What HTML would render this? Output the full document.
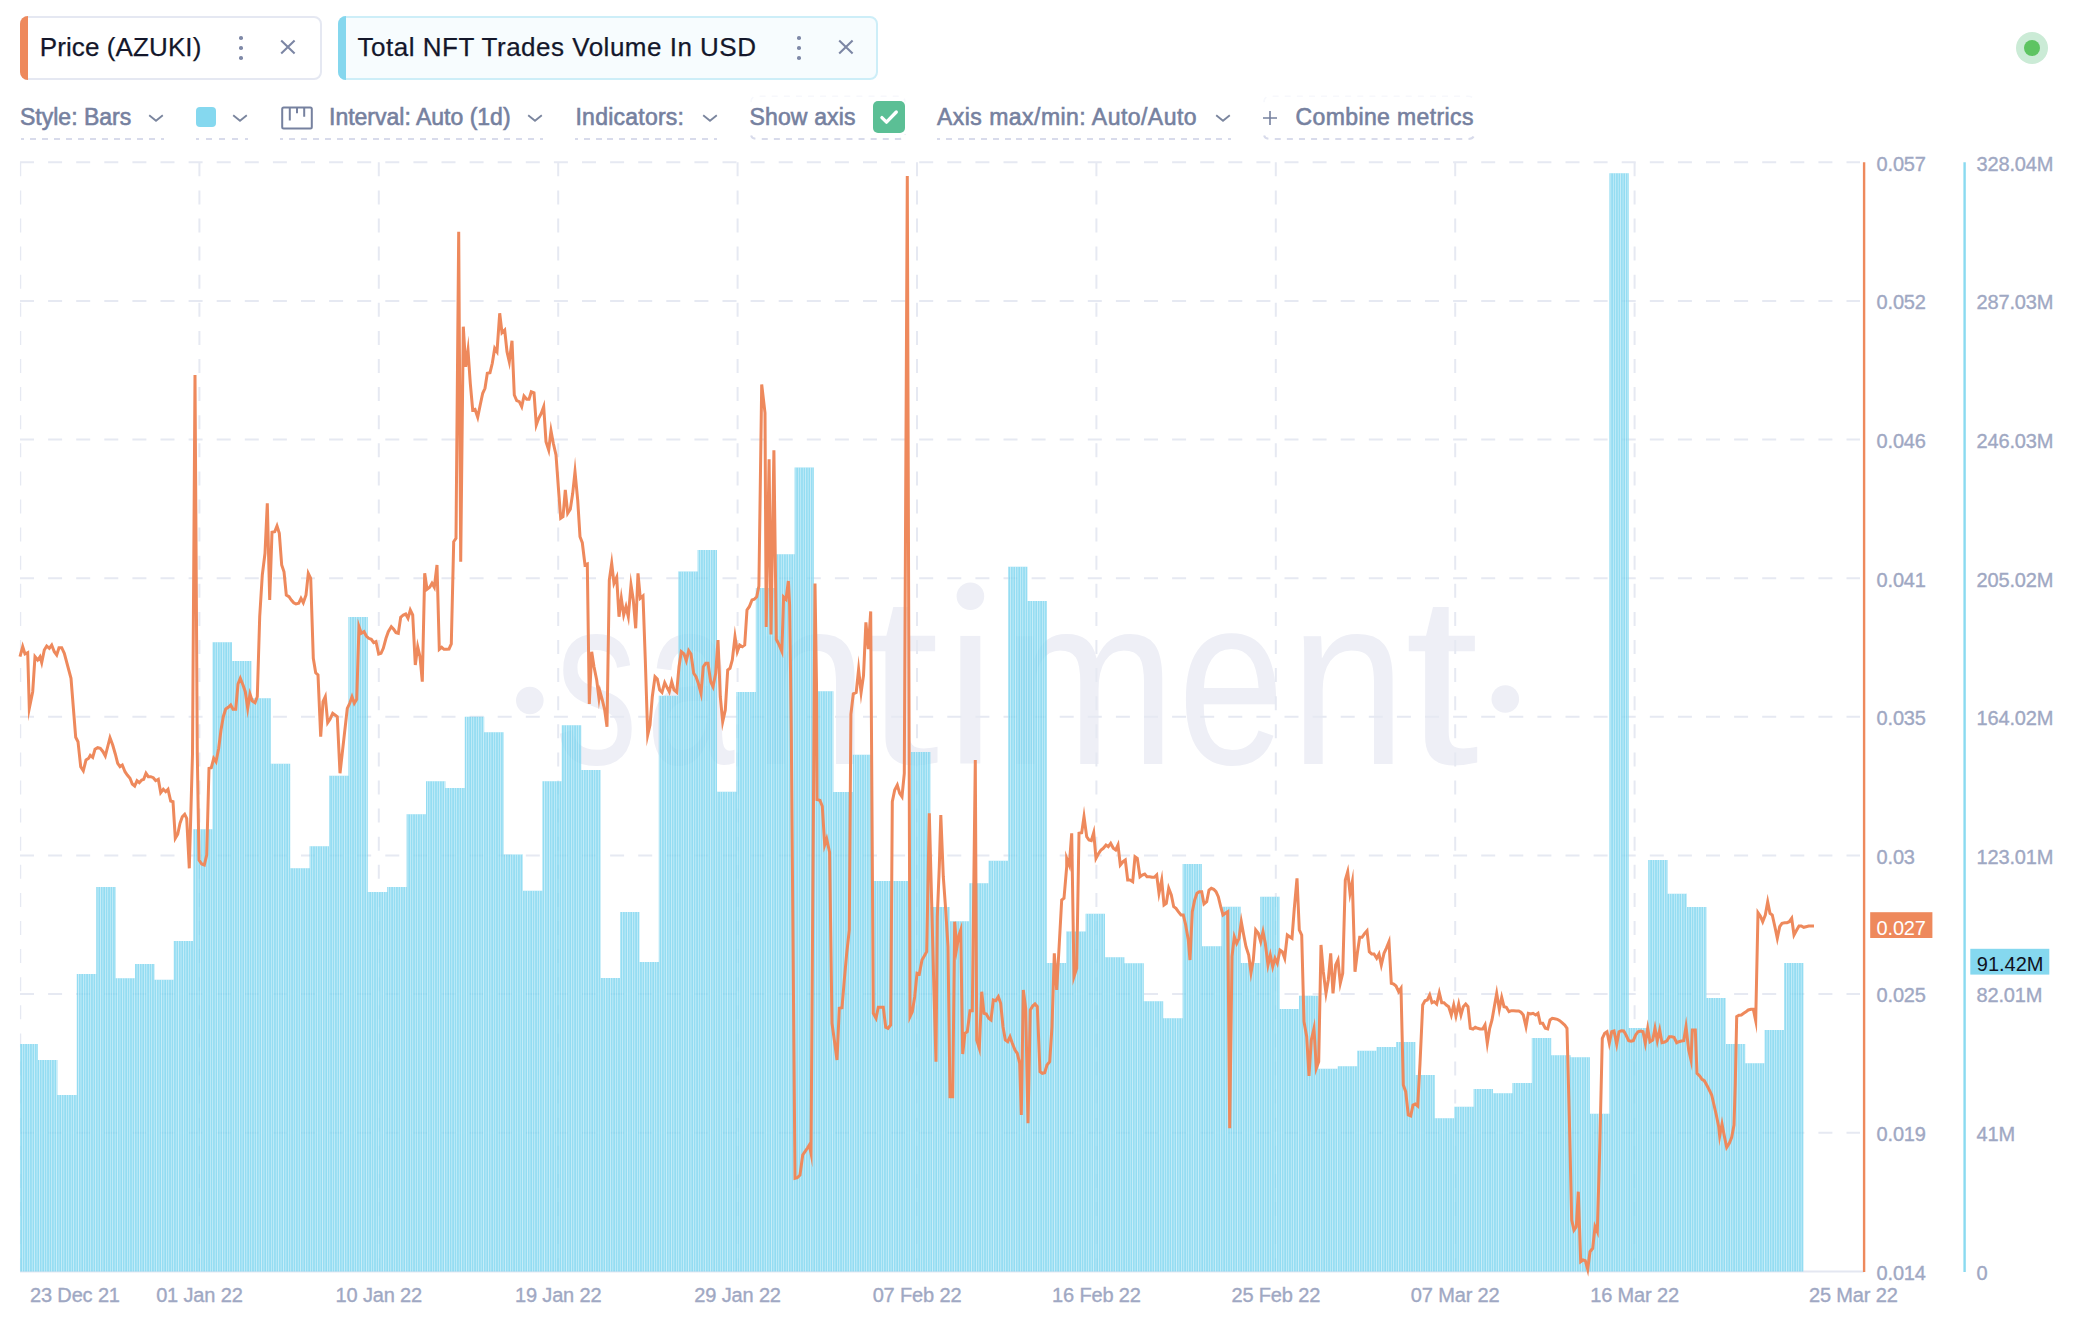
<!DOCTYPE html>
<html><head><meta charset="utf-8"><title>chart</title>
<style>
html,body{margin:0;padding:0;background:#fff;}
body{width:2094px;height:1322px;position:relative;overflow:hidden;font-family:"Liberation Sans",sans-serif;}
#chart{position:absolute;left:0;top:0;}
.tab{position:absolute;top:16px;height:64px;box-sizing:border-box;border:2px solid #E5E8F2;border-radius:8px;}
.tab .acc{position:absolute;left:-2px;top:-2px;width:8px;height:64px;border-radius:8px 0 0 8px;}
.tab .t{-webkit-text-stroke:0.25px #14172b;position:absolute;left:17.8px;top:-2.5px;letter-spacing:0.1px;line-height:62px;font-size:26px;color:#14172b;white-space:nowrap;}
.dots{position:absolute;top:18.4px;width:4px;}
.dots i{display:block;width:3.6px;height:3.6px;border-radius:50%;background:#7f89a8;margin-bottom:6.3px;}
.x{position:absolute;}
.tb{position:absolute;top:100px;height:40px;box-sizing:border-box;white-space:nowrap;font-size:23px;line-height:32px;color:#76819f;-webkit-text-stroke:0.6px #76819f;}
.tb .ul{position:absolute;top:37.9px;height:2px;}
.tb .tx{position:absolute;top:0.5px;left:0;}
.chev{position:absolute;}
</style></head><body>
<svg id="chart" width="2094" height="1322" viewBox="0 0 2094 1322">
<defs><pattern id="st" width="2.44" height="8" patternUnits="userSpaceOnUse"><rect x="0" y="0" width="0.9" height="8" fill="#ffffff" opacity="0.5"/></pattern></defs>
<g fill="#EEEFF6" font-family="Liberation Sans, sans-serif" font-size="242"><circle cx="529.8" cy="700.5" r="13.8"/><circle cx="1505.3" cy="699" r="13.8"/><circle cx="970.4" cy="596.2" r="13.8"/><rect x="960.3" y="635.9" width="20" height="127.6"/><text transform="translate(555.17 763.5) scale(0.6806 1)">s</text><text transform="translate(646.33 763.5) scale(0.6553 1)">a</text><text transform="translate(751.83 763.5) scale(0.8649 1)">n</text><text transform="translate(865.02 763.5) scale(1.1073 1)">t</text><text transform="translate(1002.05 763.5) scale(0.8635 1)">m</text><text transform="translate(1177.86 763.5) scale(0.7942 1)">e</text><text transform="translate(1289.63 763.5) scale(0.8649 1)">n</text><text transform="translate(1404.72 763.5) scale(1.1073 1)">t</text></g>
<clipPath id="bc"><path d="M20.0 1271.5 L20.0 1044.0 L38.0 1044.0 L38.0 1060.0 L57.4 1060.0 L57.4 1095.0 L76.8 1095.0 L76.8 974.0 L96.2 974.0 L96.2 887.0 L115.6 887.0 L115.6 978.3 L135.0 978.3 L135.0 964.0 L154.4 964.0 L154.4 979.7 L173.8 979.7 L173.8 941.0 L193.2 941.0 L193.2 829.3 L212.6 829.3 L212.6 642.3 L232.0 642.3 L232.0 661.0 L251.4 661.0 L251.4 698.3 L270.8 698.3 L270.8 763.7 L290.2 763.7 L290.2 868.3 L309.6 868.3 L309.6 846.3 L329.0 846.3 L329.0 775.7 L348.4 775.7 L348.4 617.0 L367.8 617.0 L367.8 892.0 L387.2 892.0 L387.2 887.0 L406.6 887.0 L406.6 814.3 L426.0 814.3 L426.0 781.3 L445.4 781.3 L445.4 788.0 L464.8 788.0 L464.8 716.7 L484.2 716.7 L484.2 732.3 L503.6 732.3 L503.6 854.5 L523.0 854.5 L523.0 890.7 L542.4 890.7 L542.4 781.3 L561.8 781.3 L561.8 725.3 L581.2 725.3 L581.2 770.0 L600.6 770.0 L600.6 978.0 L620.0 978.0 L620.0 912.0 L639.4 912.0 L639.4 962.0 L658.8 962.0 L658.8 695.7 L678.2 695.7 L678.2 571.5 L697.6 571.5 L697.6 550.0 L717.0 550.0 L717.0 791.7 L736.4 791.7 L736.4 692.0 L755.8 692.0 L755.8 588.0 L775.2 588.0 L775.2 554.3 L794.6 554.3 L794.6 467.6 L814.0 467.6 L814.0 691.3 L833.4 691.3 L833.4 792.0 L852.8 792.0 L852.8 754.7 L872.2 754.7 L872.2 881.0 L891.6 881.0 L891.6 881.0 L911.0 881.0 L911.0 752.0 L930.4 752.0 L930.4 907.0 L949.8 907.0 L949.8 921.2 L969.2 921.2 L969.2 883.3 L988.6 883.3 L988.6 860.7 L1008.0 860.7 L1008.0 566.7 L1027.4 566.7 L1027.4 601.0 L1046.8 601.0 L1046.8 963.0 L1066.2 963.0 L1066.2 931.5 L1085.6 931.5 L1085.6 913.8 L1105.0 913.8 L1105.0 957.3 L1124.4 957.3 L1124.4 963.3 L1143.8 963.3 L1143.8 1001.3 L1163.2 1001.3 L1163.2 1018.3 L1182.6 1018.3 L1182.6 864.0 L1202.0 864.0 L1202.0 946.3 L1221.4 946.3 L1221.4 906.7 L1240.8 906.7 L1240.8 963.0 L1260.2 963.0 L1260.2 896.7 L1279.6 896.7 L1279.6 1009.0 L1299.0 1009.0 L1299.0 995.7 L1318.4 995.7 L1318.4 1068.7 L1337.8 1068.7 L1337.8 1066.3 L1357.2 1066.3 L1357.2 1050.7 L1376.6 1050.7 L1376.6 1047.0 L1396.0 1047.0 L1396.0 1042.0 L1415.4 1042.0 L1415.4 1075.0 L1434.8 1075.0 L1434.8 1118.3 L1454.2 1118.3 L1454.2 1106.7 L1473.6 1106.7 L1473.6 1089.0 L1493.0 1089.0 L1493.0 1093.3 L1512.4 1093.3 L1512.4 1083.0 L1531.8 1083.0 L1531.8 1038.0 L1551.2 1038.0 L1551.2 1055.3 L1570.6 1055.3 L1570.6 1057.3 L1590.0 1057.3 L1590.0 1113.7 L1609.4 1113.7 L1609.4 173.3 L1628.8 173.3 L1628.8 1028.0 L1648.2 1028.0 L1648.2 860.0 L1667.6 860.0 L1667.6 893.7 L1687.0 893.7 L1687.0 907.0 L1706.4 907.0 L1706.4 998.0 L1725.8 998.0 L1725.8 1044.0 L1745.2 1044.0 L1745.2 1063.3 L1764.6 1063.3 L1764.6 1030.0 L1784.0 1030.0 L1784.0 963.0 L1803.4 963.0 L1803.4 1271.5 Z"/></clipPath>
<g stroke="#E6E9F2" stroke-width="2" stroke-dasharray="14 14.1" fill="none"><path d="M20 162.3 H1860"/><path d="M20 300.9 H1860"/><path d="M20 439.6 H1860"/><path d="M20 578.2 H1860"/><path d="M20 716.8 H1860"/><path d="M20 855.5 H1860"/><path d="M20 994.1 H1860"/><path d="M20 1132.7 H1860"/><path d="M199.4 162.3 V1271"/><path d="M378.8 162.3 V1271"/><path d="M558.2 162.3 V1271"/><path d="M737.6 162.3 V1271"/><path d="M917.0 162.3 V1271"/><path d="M1096.4 162.3 V1271"/><path d="M1275.8 162.3 V1271"/><path d="M1455.2 162.3 V1271"/><path d="M1634.6 162.3 V1271"/><path d="M20.6 162.3 V1271" stroke-width="1.3"/></g>
<g clip-path="url(#bc)" stroke="#fff" stroke-opacity="0.3" stroke-width="2.6" fill="none"><path d="M199.4 162.3 V1271"/><path d="M378.8 162.3 V1271"/><path d="M558.2 162.3 V1271"/><path d="M737.6 162.3 V1271"/><path d="M917.0 162.3 V1271"/><path d="M1096.4 162.3 V1271"/><path d="M1275.8 162.3 V1271"/><path d="M1455.2 162.3 V1271"/><path d="M1634.6 162.3 V1271"/></g>
<path d="M20 1271.5 H1864" stroke="#E4E7F1" stroke-width="2" fill="none"/>
<path d="M20.0 1271.5 L20.0 1044.0 L38.0 1044.0 L38.0 1060.0 L57.4 1060.0 L57.4 1095.0 L76.8 1095.0 L76.8 974.0 L96.2 974.0 L96.2 887.0 L115.6 887.0 L115.6 978.3 L135.0 978.3 L135.0 964.0 L154.4 964.0 L154.4 979.7 L173.8 979.7 L173.8 941.0 L193.2 941.0 L193.2 829.3 L212.6 829.3 L212.6 642.3 L232.0 642.3 L232.0 661.0 L251.4 661.0 L251.4 698.3 L270.8 698.3 L270.8 763.7 L290.2 763.7 L290.2 868.3 L309.6 868.3 L309.6 846.3 L329.0 846.3 L329.0 775.7 L348.4 775.7 L348.4 617.0 L367.8 617.0 L367.8 892.0 L387.2 892.0 L387.2 887.0 L406.6 887.0 L406.6 814.3 L426.0 814.3 L426.0 781.3 L445.4 781.3 L445.4 788.0 L464.8 788.0 L464.8 716.7 L484.2 716.7 L484.2 732.3 L503.6 732.3 L503.6 854.5 L523.0 854.5 L523.0 890.7 L542.4 890.7 L542.4 781.3 L561.8 781.3 L561.8 725.3 L581.2 725.3 L581.2 770.0 L600.6 770.0 L600.6 978.0 L620.0 978.0 L620.0 912.0 L639.4 912.0 L639.4 962.0 L658.8 962.0 L658.8 695.7 L678.2 695.7 L678.2 571.5 L697.6 571.5 L697.6 550.0 L717.0 550.0 L717.0 791.7 L736.4 791.7 L736.4 692.0 L755.8 692.0 L755.8 588.0 L775.2 588.0 L775.2 554.3 L794.6 554.3 L794.6 467.6 L814.0 467.6 L814.0 691.3 L833.4 691.3 L833.4 792.0 L852.8 792.0 L852.8 754.7 L872.2 754.7 L872.2 881.0 L891.6 881.0 L891.6 881.0 L911.0 881.0 L911.0 752.0 L930.4 752.0 L930.4 907.0 L949.8 907.0 L949.8 921.2 L969.2 921.2 L969.2 883.3 L988.6 883.3 L988.6 860.7 L1008.0 860.7 L1008.0 566.7 L1027.4 566.7 L1027.4 601.0 L1046.8 601.0 L1046.8 963.0 L1066.2 963.0 L1066.2 931.5 L1085.6 931.5 L1085.6 913.8 L1105.0 913.8 L1105.0 957.3 L1124.4 957.3 L1124.4 963.3 L1143.8 963.3 L1143.8 1001.3 L1163.2 1001.3 L1163.2 1018.3 L1182.6 1018.3 L1182.6 864.0 L1202.0 864.0 L1202.0 946.3 L1221.4 946.3 L1221.4 906.7 L1240.8 906.7 L1240.8 963.0 L1260.2 963.0 L1260.2 896.7 L1279.6 896.7 L1279.6 1009.0 L1299.0 1009.0 L1299.0 995.7 L1318.4 995.7 L1318.4 1068.7 L1337.8 1068.7 L1337.8 1066.3 L1357.2 1066.3 L1357.2 1050.7 L1376.6 1050.7 L1376.6 1047.0 L1396.0 1047.0 L1396.0 1042.0 L1415.4 1042.0 L1415.4 1075.0 L1434.8 1075.0 L1434.8 1118.3 L1454.2 1118.3 L1454.2 1106.7 L1473.6 1106.7 L1473.6 1089.0 L1493.0 1089.0 L1493.0 1093.3 L1512.4 1093.3 L1512.4 1083.0 L1531.8 1083.0 L1531.8 1038.0 L1551.2 1038.0 L1551.2 1055.3 L1570.6 1055.3 L1570.6 1057.3 L1590.0 1057.3 L1590.0 1113.7 L1609.4 1113.7 L1609.4 173.3 L1628.8 173.3 L1628.8 1028.0 L1648.2 1028.0 L1648.2 860.0 L1667.6 860.0 L1667.6 893.7 L1687.0 893.7 L1687.0 907.0 L1706.4 907.0 L1706.4 998.0 L1725.8 998.0 L1725.8 1044.0 L1745.2 1044.0 L1745.2 1063.3 L1764.6 1063.3 L1764.6 1030.0 L1784.0 1030.0 L1784.0 963.0 L1803.4 963.0 L1803.4 1271.5 Z" fill="rgb(104,207,237)" fill-opacity="0.72"/>
<path d="M20.0 1271.5 L20.0 1044.0 L38.0 1044.0 L38.0 1060.0 L57.4 1060.0 L57.4 1095.0 L76.8 1095.0 L76.8 974.0 L96.2 974.0 L96.2 887.0 L115.6 887.0 L115.6 978.3 L135.0 978.3 L135.0 964.0 L154.4 964.0 L154.4 979.7 L173.8 979.7 L173.8 941.0 L193.2 941.0 L193.2 829.3 L212.6 829.3 L212.6 642.3 L232.0 642.3 L232.0 661.0 L251.4 661.0 L251.4 698.3 L270.8 698.3 L270.8 763.7 L290.2 763.7 L290.2 868.3 L309.6 868.3 L309.6 846.3 L329.0 846.3 L329.0 775.7 L348.4 775.7 L348.4 617.0 L367.8 617.0 L367.8 892.0 L387.2 892.0 L387.2 887.0 L406.6 887.0 L406.6 814.3 L426.0 814.3 L426.0 781.3 L445.4 781.3 L445.4 788.0 L464.8 788.0 L464.8 716.7 L484.2 716.7 L484.2 732.3 L503.6 732.3 L503.6 854.5 L523.0 854.5 L523.0 890.7 L542.4 890.7 L542.4 781.3 L561.8 781.3 L561.8 725.3 L581.2 725.3 L581.2 770.0 L600.6 770.0 L600.6 978.0 L620.0 978.0 L620.0 912.0 L639.4 912.0 L639.4 962.0 L658.8 962.0 L658.8 695.7 L678.2 695.7 L678.2 571.5 L697.6 571.5 L697.6 550.0 L717.0 550.0 L717.0 791.7 L736.4 791.7 L736.4 692.0 L755.8 692.0 L755.8 588.0 L775.2 588.0 L775.2 554.3 L794.6 554.3 L794.6 467.6 L814.0 467.6 L814.0 691.3 L833.4 691.3 L833.4 792.0 L852.8 792.0 L852.8 754.7 L872.2 754.7 L872.2 881.0 L891.6 881.0 L891.6 881.0 L911.0 881.0 L911.0 752.0 L930.4 752.0 L930.4 907.0 L949.8 907.0 L949.8 921.2 L969.2 921.2 L969.2 883.3 L988.6 883.3 L988.6 860.7 L1008.0 860.7 L1008.0 566.7 L1027.4 566.7 L1027.4 601.0 L1046.8 601.0 L1046.8 963.0 L1066.2 963.0 L1066.2 931.5 L1085.6 931.5 L1085.6 913.8 L1105.0 913.8 L1105.0 957.3 L1124.4 957.3 L1124.4 963.3 L1143.8 963.3 L1143.8 1001.3 L1163.2 1001.3 L1163.2 1018.3 L1182.6 1018.3 L1182.6 864.0 L1202.0 864.0 L1202.0 946.3 L1221.4 946.3 L1221.4 906.7 L1240.8 906.7 L1240.8 963.0 L1260.2 963.0 L1260.2 896.7 L1279.6 896.7 L1279.6 1009.0 L1299.0 1009.0 L1299.0 995.7 L1318.4 995.7 L1318.4 1068.7 L1337.8 1068.7 L1337.8 1066.3 L1357.2 1066.3 L1357.2 1050.7 L1376.6 1050.7 L1376.6 1047.0 L1396.0 1047.0 L1396.0 1042.0 L1415.4 1042.0 L1415.4 1075.0 L1434.8 1075.0 L1434.8 1118.3 L1454.2 1118.3 L1454.2 1106.7 L1473.6 1106.7 L1473.6 1089.0 L1493.0 1089.0 L1493.0 1093.3 L1512.4 1093.3 L1512.4 1083.0 L1531.8 1083.0 L1531.8 1038.0 L1551.2 1038.0 L1551.2 1055.3 L1570.6 1055.3 L1570.6 1057.3 L1590.0 1057.3 L1590.0 1113.7 L1609.4 1113.7 L1609.4 173.3 L1628.8 173.3 L1628.8 1028.0 L1648.2 1028.0 L1648.2 860.0 L1667.6 860.0 L1667.6 893.7 L1687.0 893.7 L1687.0 907.0 L1706.4 907.0 L1706.4 998.0 L1725.8 998.0 L1725.8 1044.0 L1745.2 1044.0 L1745.2 1063.3 L1764.6 1063.3 L1764.6 1030.0 L1784.0 1030.0 L1784.0 963.0 L1803.4 963.0 L1803.4 1271.5 Z" fill="url(#st)"/>
<path d="M20.0 656.7 L22.7 646.7 L25.0 654.0 L27.7 652.7 L29.3 708.3 L32.7 691.7 L35.0 656.7 L37.7 660.0 L40.0 656.7 L41.7 662.7 L44.3 650.0 L46.7 646.0 L49.3 648.3 L51.7 645.0 L54.3 651.7 L56.7 655.0 L59.0 647.7 L61.7 647.7 L64.3 653.3 L71.0 678.3 L75.7 737.3 L78.0 741.7 L80.7 766.7 L83.3 770.7 L86.0 760.0 L88.7 758.3 L90.3 755.3 L92.7 757.3 L95.0 749.3 L97.7 747.7 L100.3 748.3 L103.0 751.7 L105.3 756.0 L110.0 737.7 L112.7 745.0 L115.3 754.0 L117.7 763.3 L120.0 766.7 L122.3 765.0 L125.0 771.7 L127.3 775.0 L130.0 778.3 L132.3 784.0 L134.7 786.0 L137.0 780.7 L139.3 782.7 L141.7 780.0 L143.7 779.3 L146.0 773.3 L148.3 776.7 L150.7 776.7 L153.3 777.7 L155.7 780.7 L158.3 779.3 L160.7 792.7 L163.3 789.3 L165.7 791.7 L168.0 789.3 L170.7 801.0 L173.0 801.7 L175.3 838.3 L177.7 834.3 L180.0 823.3 L182.3 816.7 L184.7 814.3 L186.7 818.3 L189.3 868.3 L192.5 754.0 L195.0 375.0 L197.3 754.0 L199.0 860.0 L201.7 864.0 L204.3 865.0 L206.7 855.0 L209.0 768.3 L211.3 767.7 L213.7 758.3 L216.0 761.7 L218.7 748.3 L221.0 730.0 L223.3 716.7 L225.7 709.0 L228.3 707.3 L230.7 705.0 L233.0 709.3 L235.7 709.3 L238.0 684.0 L240.3 678.3 L243.0 685.0 L245.3 691.7 L247.7 708.3 L250.0 694.0 L252.3 701.0 L255.0 702.7 L257.3 696.7 L259.7 616.7 L262.3 575.0 L265.0 553.3 L267.3 503.3 L269.7 600.0 L272.0 532.3 L274.7 531.7 L277.0 526.0 L279.3 533.3 L281.7 565.0 L284.0 571.7 L286.3 595.0 L289.0 596.7 L291.3 600.0 L293.7 602.7 L296.0 604.0 L298.7 603.3 L301.0 598.3 L303.3 602.7 L306.0 595.0 L308.3 573.3 L310.7 578.3 L313.3 658.3 L315.7 672.7 L318.0 675.0 L320.7 736.7 L323.0 701.7 L325.3 696.7 L327.7 722.7 L330.0 719.3 L332.7 713.3 L335.0 715.0 L337.3 716.7 L340.0 773.3 L347.3 708.3 L349.7 703.3 L352.0 696.7 L354.3 703.3 L356.7 699.3 L359.0 626.7 L361.3 633.3 L364.0 631.7 L366.3 636.0 L368.7 638.3 L371.3 639.3 L373.7 642.7 L376.0 641.7 L378.7 654.0 L381.0 653.3 L383.3 648.3 L386.0 638.3 L388.3 631.7 L391.3 626.7 L393.7 629.3 L396.0 632.7 L398.3 633.3 L400.7 617.3 L403.3 615.0 L405.7 614.0 L408.0 618.3 L410.3 610.0 L412.7 615.0 L415.3 665.0 L417.7 646.7 L420.0 656.7 L422.3 681.7 L424.7 573.3 L427.0 589.3 L429.7 587.3 L432.0 583.3 L434.3 587.3 L437.0 565.0 L439.3 649.3 L441.7 647.3 L444.0 649.3 L446.7 649.3 L449.0 649.0 L451.3 644.0 L453.7 541.7 L456.0 538.3 L458.7 231.7 L460.7 561.7 L463.3 326.7 L465.7 366.7 L468.0 350.0 L470.3 383.3 L472.7 410.0 L475.0 409.3 L477.7 417.3 L480.0 406.0 L482.7 393.3 L485.0 388.3 L487.3 373.3 L490.0 372.7 L492.3 363.3 L494.7 348.3 L497.0 351.7 L499.7 313.3 L502.0 332.7 L504.7 330.0 L507.0 351.7 L509.3 361.7 L512.0 340.7 L514.3 395.0 L516.7 400.7 L519.3 401.7 L521.7 406.7 L524.0 396.0 L526.7 399.3 L529.0 399.3 L531.3 391.7 L534.0 392.7 L536.3 425.0 L538.7 418.3 L541.3 413.3 L543.7 406.7 L546.0 441.7 L548.7 450.0 L551.0 430.7 L553.3 443.3 L556.0 455.0 L558.3 486.7 L560.7 518.3 L563.0 516.7 L565.3 490.0 L567.7 513.3 L570.3 509.3 L572.7 493.3 L575.0 471.7 L577.7 500.0 L580.0 536.7 L582.3 542.7 L585.0 565.0 L587.3 564.0 L589.3 704.0 L591.7 651.7 L594.0 666.7 L596.7 680.0 L599.0 698.3 L600.0 691.7 L602.3 700.0 L604.7 710.0 L607.0 726.7 L609.3 580.0 L611.7 563.3 L614.0 583.3 L616.7 577.3 L619.0 616.7 L621.3 598.3 L623.7 615.0 L626.0 606.7 L628.3 616.7 L631.0 585.0 L633.3 600.0 L635.7 628.3 L638.0 573.3 L640.3 598.3 L643.0 596.0 L645.3 660.0 L647.7 735.0 L650.0 725.0 L652.3 696.7 L655.0 676.7 L657.3 679.0 L659.7 690.0 L662.0 692.3 L664.7 682.7 L667.0 687.3 L669.3 691.7 L671.7 681.7 L674.0 690.0 L676.7 692.3 L679.0 666.7 L681.3 651.7 L684.0 654.0 L686.3 660.7 L688.7 650.7 L691.0 654.0 L693.7 673.3 L696.0 676.7 L698.3 683.3 L701.0 693.3 L703.3 666.7 L705.7 663.3 L708.0 663.3 L710.7 681.7 L713.0 686.7 L715.7 673.3 L718.0 640.0 L720.3 696.7 L722.7 721.7 L725.3 710.0 L727.7 670.0 L730.0 668.3 L732.3 660.0 L735.0 636.7 L737.3 651.7 L739.7 645.0 L742.3 646.7 L744.7 645.0 L747.0 610.0 L749.3 606.7 L752.0 600.0 L754.3 599.3 L756.7 596.7 L758.9 586.0 L761.7 384.5 L765.0 412.8 L766.2 627.0 L769.1 459.3 L771.0 634.4 L773.9 450.3 L776.3 639.3 L778.7 644.0 L781.9 651.4 L783.6 597.0 L786.0 599.3 L788.4 581.0 L789.6 605.0 L790.4 661.0 L791.3 733.7 L795.0 1178.3 L797.3 1177.7 L800.0 1175.0 L802.7 1155.0 L805.0 1151.7 L807.3 1148.3 L809.3 1145.0 L811.0 1153.3 L815.0 583.6 L816.5 685.0 L817.0 799.6 L819.9 800.3 L822.3 806.3 L824.7 845.0 L826.7 839.0 L829.6 852.3 L832.0 1023.3 L834.3 1040.0 L837.0 1060.0 L839.3 1008.3 L842.0 1007.7 L844.3 980.0 L846.7 953.3 L849.3 930.0 L850.9 714.3 L853.3 693.8 L856.2 692.5 L858.6 669.5 L861.1 692.5 L863.5 675.6 L865.9 622.3 L868.3 649.0 L870.7 611.4 L873.3 1013.3 L876.0 1018.3 L878.3 1007.3 L883.3 1007.3 L885.7 1027.3 L888.0 1028.3 L890.7 1025.0 L892.3 801.7 L894.7 790.0 L897.3 785.0 L899.7 793.3 L902.0 796.7 L904.3 773.3 L907.3 176.0 L910.0 1016.7 L912.3 1011.7 L914.7 996.7 L917.0 973.3 L919.3 974.0 L922.0 960.0 L924.3 956.0 L926.7 951.7 L929.3 813.3 L931.7 903.3 L934.0 993.3 L936.0 1061.7 L937.3 916.7 L939.3 866.7 L940.8 815.0 L943.3 876.7 L945.7 910.0 L948.0 946.7 L950.0 1096.7 L952.7 1096.7 L954.7 921.7 L956.7 948.3 L959.0 935.0 L960.7 930.0 L962.7 1054.0 L965.0 1033.3 L967.3 1031.7 L970.0 1010.7 L972.3 1010.7 L975.3 760.0 L976.7 1040.0 L979.3 1048.3 L981.7 991.7 L984.0 1013.3 L986.3 1014.0 L988.7 1018.3 L991.0 1020.0 L993.3 1000.0 L995.7 1000.7 L998.3 996.7 L1000.7 1003.3 L1003.0 1026.7 L1005.3 1040.0 L1007.7 1041.7 L1010.0 1036.7 L1012.3 1043.3 L1015.0 1050.0 L1017.3 1053.3 L1019.7 1063.3 L1021.3 1115.0 L1023.3 990.0 L1025.7 1008.3 L1028.0 1123.3 L1030.3 1010.0 L1032.7 1006.0 L1035.0 1004.0 L1037.3 1006.7 L1040.0 1071.7 L1042.3 1073.3 L1044.7 1072.7 L1047.0 1065.0 L1049.7 1061.7 L1052.0 1026.7 L1054.3 953.3 L1056.7 990.0 L1059.3 943.3 L1061.7 900.0 L1064.0 898.3 L1066.7 866.7 L1066.7 858.3 L1069.3 865.0 L1071.7 833.3 L1074.0 976.7 L1076.7 968.3 L1079.0 833.3 L1081.7 832.7 L1084.0 816.7 L1086.7 836.7 L1089.0 840.0 L1091.3 840.7 L1093.7 832.7 L1096.0 858.3 L1098.7 853.3 L1101.0 850.0 L1103.3 848.3 L1106.0 845.0 L1108.3 846.7 L1110.7 843.3 L1113.3 848.3 L1115.7 850.0 L1118.0 845.0 L1120.3 865.0 L1123.0 861.7 L1125.3 860.0 L1127.7 880.0 L1130.0 880.0 L1132.7 881.7 L1135.0 856.7 L1137.3 858.3 L1140.0 876.7 L1142.3 875.0 L1144.7 874.0 L1147.0 876.7 L1149.7 876.7 L1152.0 877.3 L1154.3 877.3 L1156.7 875.0 L1159.0 893.3 L1161.7 880.0 L1164.0 905.0 L1166.3 903.3 L1168.7 888.3 L1171.3 895.0 L1173.7 906.7 L1176.0 908.3 L1178.3 911.7 L1181.0 915.0 L1183.3 915.0 L1185.7 925.0 L1188.3 940.0 L1190.0 960.0 L1192.3 911.7 L1194.7 900.0 L1197.0 893.3 L1199.3 891.7 L1201.7 891.7 L1204.0 904.0 L1206.7 901.7 L1209.0 890.0 L1211.3 888.3 L1213.7 889.3 L1216.0 891.7 L1218.3 896.7 L1220.7 906.7 L1223.0 915.0 L1225.3 913.3 L1227.7 911.7 L1229.7 1128.3 L1232.0 956.7 L1234.3 936.7 L1236.7 943.3 L1239.0 938.3 L1241.3 921.7 L1243.7 935.0 L1246.0 946.7 L1248.7 955.0 L1251.0 972.7 L1253.3 960.0 L1255.7 930.0 L1258.3 933.3 L1260.7 941.7 L1263.0 931.7 L1265.3 943.3 L1268.0 965.0 L1270.3 955.0 L1272.7 966.7 L1275.0 958.3 L1277.3 963.3 L1280.0 950.0 L1282.3 951.7 L1284.7 958.3 L1287.3 935.0 L1289.7 936.7 L1292.0 938.3 L1294.3 908.3 L1297.0 878.3 L1299.3 930.0 L1301.7 935.0 L1304.0 1021.7 L1306.7 1036.7 L1309.0 1076.0 L1311.3 1040.0 L1314.0 1028.3 L1316.3 1068.3 L1318.7 1061.7 L1321.0 945.0 L1323.3 971.7 L1326.0 993.3 L1328.3 980.0 L1330.7 953.3 L1333.0 993.3 L1335.7 965.0 L1338.0 960.0 L1340.3 983.3 L1342.7 973.3 L1345.3 880.0 L1347.7 871.7 L1350.0 893.3 L1352.3 881.7 L1355.0 971.7 L1357.3 953.3 L1359.7 937.3 L1362.0 937.3 L1364.7 933.3 L1367.0 930.7 L1369.3 951.7 L1371.7 954.0 L1374.0 954.0 L1376.7 958.3 L1379.0 954.0 L1381.3 965.0 L1384.0 953.3 L1386.3 948.3 L1389.0 941.7 L1391.3 983.3 L1393.7 984.0 L1396.0 986.0 L1398.7 991.7 L1401.0 988.3 L1403.3 1085.0 L1405.7 1091.7 L1408.3 1115.0 L1410.7 1116.0 L1413.0 1105.0 L1415.3 1104.0 L1417.7 1106.0 L1420.0 1063.3 L1422.7 1005.0 L1425.0 1000.7 L1427.3 1000.0 L1429.7 995.0 L1432.0 1002.7 L1434.3 1001.7 L1436.7 1004.0 L1439.3 992.7 L1441.7 1002.7 L1444.0 1002.7 L1446.3 1005.0 L1448.7 1006.7 L1451.3 1015.0 L1453.7 1005.0 L1456.0 1016.0 L1458.7 1004.0 L1461.0 1015.0 L1463.3 1006.7 L1465.7 1004.0 L1468.0 1006.7 L1470.3 1028.3 L1473.0 1029.0 L1475.3 1027.3 L1477.7 1028.3 L1480.0 1029.0 L1482.7 1029.0 L1485.0 1025.0 L1487.3 1043.3 L1489.7 1028.3 L1492.0 1020.0 L1494.3 1006.7 L1496.7 993.3 L1499.3 1009.3 L1501.7 997.3 L1504.0 1006.7 L1506.3 1007.3 L1509.0 1011.7 L1511.3 1010.7 L1513.7 1010.7 L1516.3 1011.0 L1518.7 1011.0 L1521.0 1012.3 L1523.3 1015.0 L1526.0 1026.7 L1528.3 1013.3 L1530.7 1014.0 L1533.0 1013.3 L1535.7 1015.0 L1538.0 1013.3 L1540.3 1023.3 L1542.7 1023.3 L1545.3 1028.3 L1547.7 1029.0 L1550.0 1020.0 L1552.3 1018.3 L1554.7 1018.7 L1557.3 1019.3 L1559.7 1020.7 L1562.0 1022.7 L1564.7 1025.0 L1567.0 1028.3 L1569.3 1116.7 L1571.7 1220.0 L1574.0 1230.0 L1576.3 1226.7 L1578.3 1191.7 L1580.7 1261.7 L1583.0 1260.0 L1585.3 1260.7 L1587.7 1269.3 L1590.0 1251.7 L1592.7 1248.3 L1595.0 1226.7 L1597.3 1231.7 L1599.7 1150.0 L1602.3 1038.3 L1604.7 1033.3 L1607.0 1031.7 L1609.3 1043.3 L1611.7 1031.7 L1614.0 1031.0 L1616.7 1044.3 L1619.0 1031.7 L1621.3 1030.7 L1623.7 1031.0 L1626.0 1035.0 L1628.7 1040.7 L1631.0 1041.3 L1633.3 1040.7 L1635.7 1035.0 L1638.0 1031.7 L1640.7 1031.0 L1643.0 1031.7 L1645.3 1043.3 L1647.7 1028.3 L1650.0 1041.7 L1652.7 1040.0 L1655.0 1028.3 L1657.3 1040.7 L1659.7 1030.0 L1662.0 1042.7 L1664.7 1042.0 L1667.0 1040.7 L1669.3 1036.7 L1671.7 1036.7 L1674.0 1037.3 L1676.7 1042.7 L1679.0 1041.7 L1681.3 1041.0 L1683.7 1040.7 L1686.0 1026.7 L1688.7 1050.0 L1691.0 1060.0 L1692.3 1030.0 L1695.3 1030.0 L1697.0 1073.3 L1699.7 1076.0 L1702.0 1079.3 L1704.3 1080.7 L1706.7 1085.0 L1709.3 1090.0 L1711.7 1095.0 L1714.0 1105.0 L1716.3 1115.0 L1718.7 1126.7 L1719.7 1136.0 L1722.0 1124.0 L1724.3 1136.0 L1726.7 1147.3 L1729.3 1143.3 L1731.7 1137.3 L1734.0 1125.0 L1735.3 1083.3 L1736.7 1016.7 L1739.0 1015.3 L1741.3 1015.0 L1743.7 1013.3 L1746.0 1011.7 L1748.3 1010.0 L1751.0 1009.3 L1753.3 1009.3 L1755.7 1020.7 L1758.0 912.7 L1760.3 916.0 L1762.7 921.7 L1765.3 915.0 L1767.7 901.7 L1770.0 913.3 L1772.3 915.0 L1775.0 927.3 L1777.3 938.3 L1779.7 926.7 L1782.0 923.3 L1784.7 922.7 L1787.0 922.7 L1789.3 921.7 L1791.7 918.3 L1794.0 935.0 L1796.7 930.0 L1799.0 926.0 L1801.3 926.0 L1803.7 927.3 L1806.0 926.7 L1808.7 926.0 L1811.0 926.0 L1814.0 926.0" fill="none" stroke="#EE895C" stroke-width="3" stroke-linejoin="miter" stroke-miterlimit="10"/>
<path d="M1864.1 162.3 V1272" stroke="#EE895C" stroke-width="2.4" fill="none"/>
<path d="M1964.6 162.3 V1272" stroke="#8ADAF0" stroke-width="2.4" fill="none"/>
<g font-family="Liberation Sans, sans-serif" font-size="20" letter-spacing="-0.15" fill="#9FA8C3" stroke="#9FA8C3" stroke-width="0.35"><text x="1876.5" y="170.6">0.057</text><text x="1976.5" y="170.6">328.04M</text><text x="1876.5" y="309.2">0.052</text><text x="1976.5" y="309.2">287.03M</text><text x="1876.5" y="447.9">0.046</text><text x="1976.5" y="447.9">246.03M</text><text x="1876.5" y="586.5">0.041</text><text x="1976.5" y="586.5">205.02M</text><text x="1876.5" y="725.1">0.035</text><text x="1976.5" y="725.1">164.02M</text><text x="1876.5" y="863.8">0.03</text><text x="1976.5" y="863.8">123.01M</text><text x="1876.5" y="1002.4">0.025</text><text x="1976.5" y="1002.4">82.01M</text><text x="1876.5" y="1141.0">0.019</text><text x="1976.5" y="1141.0">41M</text><text x="1876.5" y="1279.6">0.014</text><text x="1976.5" y="1279.6">0</text><text x="30" y="1302.3">23 Dec 21</text><text x="199.4" y="1302.3" text-anchor="middle">01 Jan 22</text><text x="378.8" y="1302.3" text-anchor="middle">10 Jan 22</text><text x="558.2" y="1302.3" text-anchor="middle">19 Jan 22</text><text x="737.6" y="1302.3" text-anchor="middle">29 Jan 22</text><text x="917.0" y="1302.3" text-anchor="middle">07 Feb 22</text><text x="1096.4" y="1302.3" text-anchor="middle">16 Feb 22</text><text x="1275.8" y="1302.3" text-anchor="middle">25 Feb 22</text><text x="1455.2" y="1302.3" text-anchor="middle">07 Mar 22</text><text x="1634.6" y="1302.3" text-anchor="middle">16 Mar 22</text><text x="1809" y="1302.3">25 Mar 22</text></g>
<rect x="1870.2" y="912.2" width="62.2" height="25.8" fill="#EE895C"/>
<text x="1876.5" y="934.6" font-family="Liberation Sans, sans-serif" font-size="20" letter-spacing="-0.15" fill="#fff">0.027</text>
<rect x="1970.3" y="948.8" width="79" height="25.8" fill="#85D8EF"/>
<text x="1976.8" y="970.8" font-family="Liberation Sans, sans-serif" font-size="20" fill="#10131f">91.42M</text>
</svg>
<div class="tab" style="left:20px;width:302px;"><div class="acc" style="background:#EE895C"></div><div class="t" id="t1">Price (AZUKI)</div>
<div class="dots" style="left:217px;"><i></i><i></i><i></i></div>
<svg class="x" style="left:258px;top:21.2px" width="16" height="16" viewBox="0 0 16 16"><path d="M1.2 1.6 L14.6 14.6 M14.6 1.6 L1.2 14.6" stroke="#7C86A4" stroke-width="2.1" fill="none"/></svg>
</div>
<div class="tab" style="left:338px;width:540px;background:#F7FCFE;border-color:#CDEEF8"><div class="acc" style="background:#85D7EE"></div><div class="t" id="t2" style="letter-spacing:0.5px;left:17.6px">Total NFT Trades Volume In USD</div>
<div class="dots" style="left:457px;"><i></i><i></i><i></i></div>
<svg class="x" style="left:498.2px;top:21.2px" width="16" height="16" viewBox="0 0 16 16"><path d="M1.2 1.6 L14.6 14.6 M14.6 1.6 L1.2 14.6" stroke="#7C86A4" stroke-width="2.1" fill="none"/></svg>
</div>
<div style="position:absolute;left:2016px;top:31.5px;width:32px;height:32px;border-radius:50%;background:#CBEBD6"></div>
<div style="position:absolute;left:2024px;top:39.5px;width:16px;height:16px;border-radius:50%;background:#5EC462"></div>
<div class="tb" style="left:20.5px;width:143.3px"><span id="s1" class="tx" style="left:-0.5px">Style: Bars</span><svg class="chev" style="left:127.5px;top:13.7px" width="16" height="9" viewBox="0 0 16 9"><path d="M1.2 1.2 L8 6.8 L14.8 1.2" fill="none" stroke="#7A859E" stroke-width="1.8"/></svg><div class="ul" style="left:0px;width:143.3px;background:repeating-linear-gradient(90deg,#D8DBEB 0 3px,transparent 3px 8.942px,#D8DBEB 8.942px 11.942px)"></div></div>
<div class="tb" style="left:196.2px;width:51.6px"><div style="position:absolute;left:-0.3px;top:7.2px;width:19.8px;height:19.6px;border-radius:4px;background:#85D8EF"></div><svg class="chev" style="left:35.8px;top:13.7px" width="16" height="9" viewBox="0 0 16 9"><path d="M1.2 1.2 L8 6.8 L14.8 1.2" fill="none" stroke="#7A859E" stroke-width="1.8"/></svg><div class="ul" style="left:0px;width:51.6px;background:repeating-linear-gradient(90deg,#D8DBEB 0 3px,transparent 3px 9.900px,#D8DBEB 9.900px 12.900px)"></div></div>
<div class="tb" style="left:280px;width:262.7px"><svg style="position:absolute;left:0;top:5px" width="34" height="26" viewBox="0 0 34 26"><rect x="2.2" y="2.5" width="29.6" height="21" rx="1.5" fill="none" stroke="#76819f" stroke-width="2"/><path d="M9.8 2.5 V15.6 M17 2.5 V8.2 M24.2 2.5 V11.8" stroke="#76819f" stroke-width="2" fill="none"/></svg><span id="s2" class="tx" style="left:49px">Interval: Auto (1d)</span><svg class="chev" style="left:247px;top:13.7px" width="16" height="9" viewBox="0 0 16 9"><path d="M1.2 1.2 L8 6.8 L14.8 1.2" fill="none" stroke="#7A859E" stroke-width="1.8"/></svg><div class="ul" style="left:0px;width:262.7px;background:repeating-linear-gradient(90deg,#D8DBEB 0 3px,transparent 3px 8.941px,#D8DBEB 8.941px 11.941px)"></div></div>
<div class="tb" style="left:575.3px;width:141.7px"><span id="s3" class="tx" style="left:0.2px;letter-spacing:0.24px">Indicators:</span><svg class="chev" style="left:126.5px;top:13.7px" width="16" height="9" viewBox="0 0 16 9"><path d="M1.2 1.2 L8 6.8 L14.8 1.2" fill="none" stroke="#7A859E" stroke-width="1.8"/></svg><div class="ul" style="left:0px;width:141.7px;background:repeating-linear-gradient(90deg,#D8DBEB 0 3px,transparent 3px 8.808px,#D8DBEB 8.808px 11.808px)"></div></div>
<div class="tb" style="left:749.5px;width:156px"><span id="s4" class="tx" style="letter-spacing:0.15px">Show axis</span><div style="position:absolute;left:123.4px;top:1.1px;width:32px;height:32px;border-radius:5px;background:#5BBF95"><svg width="32" height="32" viewBox="0 0 32 32"><path d="M8.9 16.6 L13.5 21.2 L23.3 11" fill="none" stroke="#fff" stroke-width="3.3" stroke-linecap="round" stroke-linejoin="round"/></svg></div><svg style="position:absolute;left:0;top:-5px" width="156" height="46" viewBox="0 0 156 46" fill="none" stroke-width="2" stroke-dasharray="6 6.1"><path d="M1 7.3 Q1 1.3 7 1.3 H149 Q155 1.3 155 7.3" stroke="#F7F8FC" stroke-width="1.6"/><path d="M1 39.4 Q1 43.9 7 43.9 H149 Q155 43.9 155 39.4" stroke="#D8DBEB" stroke-dashoffset="-1"/></svg></div>
<div class="tb" style="left:936.8px;width:294.2px"><span id="s5" class="tx" style="left:0.2px;letter-spacing:0.47px">Axis max/min: Auto/Auto</span><svg class="chev" style="left:278.5px;top:13.7px" width="16" height="9" viewBox="0 0 16 9"><path d="M1.2 1.2 L8 6.8 L14.8 1.2" fill="none" stroke="#7A859E" stroke-width="1.8"/></svg><div class="ul" style="left:0px;width:294.2px;background:repeating-linear-gradient(90deg,#D8DBEB 0 3px,transparent 3px 8.768px,#D8DBEB 8.768px 11.768px)"></div></div>
<div class="tb" style="left:1263px;width:212px"><svg style="position:absolute;left:0px;top:11.3px" width="14" height="14" viewBox="0 0 14 14"><path d="M7 0 V14 M0 7 H14" stroke="#76819f" stroke-width="1.6" fill="none"/></svg><span id="s6" class="tx" style="left:32.5px;letter-spacing:0.39px">Combine metrics</span><svg style="position:absolute;left:0;top:-5px" width="212" height="46" viewBox="0 0 212 46" fill="none" stroke-width="2" stroke-dasharray="6 6.1"><path d="M1 7.3 Q1 1.3 7 1.3 H205 Q211 1.3 211 7.3" stroke="#F7F8FC" stroke-width="1.6"/><path d="M1 39.4 Q1 43.9 7 43.9 H205 Q211 43.9 211 39.4" stroke="#D8DBEB" stroke-dashoffset="-1"/></svg></div>
</body></html>
